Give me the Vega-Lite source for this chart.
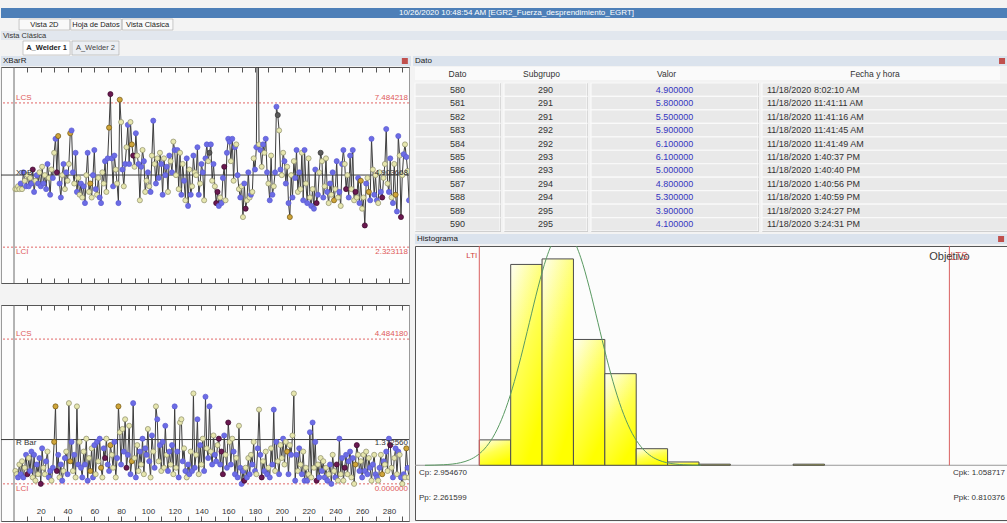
{
"$schema":"https://vega.github.io/schema/vega-lite/v6.json",
"background":"#f3f3f3",
"padding":{"left":0,"top":8,"right":0,"bottom":0},
"config":{"font":"Liberation Sans","view":{"stroke":null},"title":{"fontSize":9,"fontWeight":"normal","color":"#333333","offset":3,"font":"Liberation Sans"},"axis":{"grid":false}},
"datasets":{
"sg":[
{"s":1,"x":4.4,"r":0.4,"cx":"y","cr":"y"},{"s":2,"x":4.4,"r":0.3,"cx":"y","cr":"y"},{"s":3,"x":4.5,"r":0.2,"cx":"y","cr":"b"},{"s":4,"x":4.4,"r":0.6,"cx":"y","cr":"y"},{"s":5,"x":4.6,"r":0.3,"cx":"b","cr":"b"},{"s":6,"x":4.4,"r":0.7,"cx":"y","cr":"y"},{"s":7,"x":5.0,"r":0.2,"cx":"b","cr":"b"},{"s":8,"x":4.7,"r":0.5,"cx":"y","cr":"y"},{"s":9,"x":4.5,"r":0.9,"cx":"b","cr":"b"},{"s":10,"x":4.9,"r":0.3,"cx":"y","cr":"p"},
{"s":11,"x":4.5,"r":0.8,"cx":"b","cr":"y"},{"s":12,"x":4.8,"r":0.4,"cx":"y","cr":"b"},{"s":13,"x":4.6,"r":1.0,"cx":"b","cr":"b"},{"s":14,"x":5.1,"r":0.2,"cx":"p","cr":"y"},{"s":15,"x":4.3,"r":0.9,"cx":"b","cr":"b"},{"s":16,"x":4.7,"r":0.1,"cx":"y","cr":"y"},{"s":17,"x":4.9,"r":0.6,"cx":"b","cr":"b"},{"s":18,"x":4.6,"r":0.3,"cx":"b","cr":"y"},{"s":19,"x":5.0,"r":0.8,"cx":"y","cr":"b"},{"s":20,"x":4.5,"r":0.0,"cx":"b","cr":"p"},
{"s":21,"x":5.2,"r":1.1,"cx":"y","cr":"b"},{"s":22,"x":4.6,"r":0.5,"cx":"b","cr":"y"},{"s":23,"x":4.9,"r":0.3,"cx":"y","cr":"y"},{"s":24,"x":4.4,"r":0.7,"cx":"b","cr":"b"},{"s":25,"x":5.3,"r":1.0,"cx":"b","cr":"y"},{"s":26,"x":4.8,"r":0.2,"cx":"y","cr":"b"},{"s":27,"x":4.2,"r":0.4,"cx":"b","cr":"b"},{"s":28,"x":5.1,"r":0.1,"cx":"y","cr":"y"},{"s":29,"x":4.8,"r":0.5,"cx":"b","cr":"b"},{"s":30,"x":5.7,"r":1.3,"cx":"y","cr":"g"},
{"s":31,"x":6.2,"r":2.4,"cx":"b","cr":"g"},{"s":32,"x":5.0,"r":0.4,"cx":"p","cr":"p"},{"s":33,"x":6.3,"r":0.9,"cx":"g","cr":"b"},{"s":34,"x":4.6,"r":0.2,"cx":"b","cr":"y"},{"s":35,"x":4.1,"r":0.6,"cx":"b","cr":"b"},{"s":36,"x":4.9,"r":0.1,"cx":"y","cr":"b"},{"s":37,"x":5.3,"r":0.4,"cx":"b","cr":"y"},{"s":38,"x":4.4,"r":0.8,"cx":"y","cr":"b"},{"s":39,"x":5.0,"r":1.0,"cx":"b","cr":"y"},{"s":40,"x":4.7,"r":0.3,"cx":"y","cr":"b"},
{"s":41,"x":5.3,"r":2.5,"cx":"y","cr":"y"},{"s":42,"x":6.4,"r":0.7,"cx":"g","cr":"g"},{"s":43,"x":6.5,"r":1.3,"cx":"b","cr":"b"},{"s":44,"x":5.0,"r":0.4,"cx":"b","cr":"y"},{"s":45,"x":4.6,"r":0.9,"cx":"y","cr":"b"},{"s":46,"x":5.7,"r":0.2,"cx":"b","cr":"y"},{"s":47,"x":4.3,"r":2.4,"cx":"b","cr":"y"},{"s":48,"x":4.8,"r":0.6,"cx":"y","cr":"b"},{"s":49,"x":4.2,"r":1.3,"cx":"y","cr":"y"},{"s":50,"x":4.6,"r":0.5,"cx":"b","cr":"b"},
{"s":51,"x":4.1,"r":0.2,"cx":"y","cr":"b"},{"s":52,"x":4.5,"r":1.0,"cx":"b","cr":"y"},{"s":53,"x":3.9,"r":0.6,"cx":"b","cr":"b"},{"s":54,"x":4.9,"r":1.4,"cx":"y","cr":"y"},{"s":55,"x":5.7,"r":0.1,"cx":"b","cr":"b"},{"s":56,"x":4.3,"r":0.8,"cx":"y","cr":"y"},{"s":57,"x":4.6,"r":0.4,"cx":"g","cr":"g"},{"s":58,"x":4.1,"r":1.1,"cx":"y","cr":"y"},{"s":59,"x":4.9,"r":0.2,"cx":"b","cr":"b"},{"s":60,"x":5.8,"r":1.2,"cx":"b","cr":"b"},
{"s":61,"x":4.4,"r":0.3,"cx":"b","cr":"y"},{"s":62,"x":4.2,"r":1.3,"cx":"y","cr":"b"},{"s":63,"x":4.8,"r":0.7,"cx":"y","cr":"y"},{"s":64,"x":4.1,"r":1.4,"cx":"b","cr":"b"},{"s":65,"x":3.9,"r":0.5,"cx":"b","cr":"g"},{"s":66,"x":5.0,"r":0.2,"cx":"y","cr":"y"},{"s":67,"x":4.6,"r":1.1,"cx":"y","cr":"b"},{"s":68,"x":5.4,"r":0.8,"cx":"b","cr":"p"},{"s":69,"x":4.3,"r":1.4,"cx":"y","cr":"y"},{"s":70,"x":5.5,"r":0.6,"cx":"b","cr":"b"},
{"s":71,"x":6.6,"r":0.4,"cx":"g","cr":"b"},{"s":72,"x":7.8,"r":1.2,"cx":"p","cr":"g"},{"s":73,"x":5.5,"r":0.9,"cx":"b","cr":"y"},{"s":74,"x":4.5,"r":0.5,"cx":"b","cr":"y"},{"s":75,"x":5.6,"r":1.3,"cx":"b","cr":"b"},{"s":76,"x":5.1,"r":0.2,"cx":"y","cr":"y"},{"s":77,"x":4.6,"r":0.8,"cx":"y","cr":"b"},{"s":78,"x":3.9,"r":2.4,"cx":"b","cr":"g"},{"s":79,"x":7.6,"r":1.6,"cx":"g","cr":"y"},{"s":80,"x":6.8,"r":0.6,"cx":"y","cr":"b"},
{"s":81,"x":5.1,"r":1.7,"cx":"b","cr":"y"},{"s":82,"x":4.5,"r":1.0,"cx":"y","cr":"b"},{"s":83,"x":5.3,"r":2.0,"cx":"b","cr":"y"},{"s":84,"x":5.9,"r":0.5,"cx":"y","cr":"p"},{"s":85,"x":6.7,"r":0.9,"cx":"b","cr":"b"},{"s":86,"x":5.3,"r":1.8,"cx":"b","cr":"y"},{"s":87,"x":6.8,"r":0.3,"cx":"y","cr":"b"},{"s":88,"x":6.0,"r":0.7,"cx":"g","cr":"g"},{"s":89,"x":5.6,"r":2.5,"cx":"p","cr":"b"},{"s":90,"x":5.2,"r":0.8,"cx":"y","cr":"y"},
{"s":91,"x":6.4,"r":0.2,"cx":"b","cr":"b"},{"s":92,"x":5.6,"r":1.2,"cx":"y","cr":"y"},{"s":93,"x":5.3,"r":0.4,"cx":"b","cr":"y"},{"s":94,"x":4.0,"r":1.0,"cx":"y","cr":"b"},{"s":95,"x":5.2,"r":0.6,"cx":"b","cr":"y"},{"s":96,"x":5.8,"r":1.4,"cx":"y","cr":"b"},{"s":97,"x":5.4,"r":0.3,"cx":"b","cr":"y"},{"s":98,"x":4.3,"r":1.1,"cx":"y","cr":"b"},{"s":99,"x":4.7,"r":0.9,"cx":"y","cr":"b"},{"s":100,"x":5.0,"r":1.7,"cx":"b","cr":"y"},
{"s":101,"x":4.5,"r":0.7,"cx":"y","cr":"b"},{"s":102,"x":4.3,"r":0.2,"cx":"b","cr":"y"},{"s":103,"x":5.6,"r":1.5,"cx":"y","cr":"b"},{"s":104,"x":6.85,"r":1.0,"cx":"b","cr":"y"},{"s":105,"x":5.3,"r":0.5,"cx":"y","cr":"b"},{"s":106,"x":4.6,"r":2.4,"cx":"b","cr":"y"},{"s":107,"x":5.5,"r":2.0,"cx":"y","cr":"b"},{"s":108,"x":4.8,"r":0.7,"cx":"b","cr":"y"},{"s":109,"x":5.7,"r":1.2,"cx":"y","cr":"b"},{"s":110,"x":5.3,"r":0.4,"cx":"b","cr":"y"},
{"s":111,"x":4.2,"r":1.3,"cx":"b","cr":"b"},{"s":112,"x":5.5,"r":0.5,"cx":"y","cr":"y"},{"s":113,"x":4.9,"r":1.8,"cx":"b","cr":"b"},{"s":114,"x":5.2,"r":0.9,"cx":"b","cr":"y"},{"s":115,"x":4.3,"r":0.4,"cx":"y","cr":"b"},{"s":116,"x":5.6,"r":1.0,"cx":"b","cr":"b"},{"s":117,"x":5.4,"r":0.6,"cx":"y","cr":"y"},{"s":118,"x":5.0,"r":1.2,"cx":"b","cr":"b"},{"s":119,"x":6.1,"r":0.3,"cx":"y","cr":"y"},{"s":120,"x":5.8,"r":2.4,"cx":"b","cr":"b"},
{"s":121,"x":4.9,"r":0.5,"cx":"y","cr":"y"},{"s":122,"x":5.8,"r":1.0,"cx":"b","cr":"b"},{"s":123,"x":4.4,"r":0.2,"cx":"y","cr":"b"},{"s":124,"x":5.7,"r":1.9,"cx":"y","cr":"y"},{"s":125,"x":4.2,"r":2.0,"cx":"b","cr":"y"},{"s":126,"x":5.3,"r":0.7,"cx":"y","cr":"b"},{"s":127,"x":4.7,"r":1.1,"cx":"b","cr":"y"},{"s":128,"x":4.0,"r":0.4,"cx":"y","cr":"b"},{"s":129,"x":5.5,"r":0.2,"cx":"b","cr":"y"},{"s":130,"x":3.8,"r":0.6,"cx":"b","cr":"b"},
{"s":131,"x":5.1,"r":0.3,"cx":"y","cr":"b"},{"s":132,"x":4.2,"r":1.0,"cx":"b","cr":"y"},{"s":133,"x":4.5,"r":0.4,"cx":"y","cr":"b"},{"s":134,"x":5.6,"r":2.8,"cx":"b","cr":"y"},{"s":135,"x":5.0,"r":0.5,"cx":"y","cr":"b"},{"s":136,"x":4.9,"r":0.9,"cx":"y","cr":"y"},{"s":137,"x":5.9,"r":2.0,"cx":"b","cr":"b"},{"s":138,"x":4.2,"r":0.3,"cx":"b","cr":"y"},{"s":139,"x":4.6,"r":1.2,"cx":"y","cr":"b"},{"s":140,"x":5.3,"r":0.6,"cx":"b","cr":"y"},
{"s":141,"x":5.0,"r":1.4,"cx":"b","cr":"y"},{"s":142,"x":4.0,"r":0.4,"cx":"y","cr":"b"},{"s":143,"x":5.5,"r":2.7,"cx":"b","cr":"b"},{"s":144,"x":6.0,"r":1.1,"cx":"b","cr":"y"},{"s":145,"x":5.4,"r":0.8,"cx":"y","cr":"b"},{"s":146,"x":5.7,"r":2.4,"cx":"d","cr":"b"},{"s":147,"x":6.0,"r":1.0,"cx":"b","cr":"y"},{"s":148,"x":4.7,"r":0.6,"cx":"y","cr":"b"},{"s":149,"x":5.3,"r":1.5,"cx":"b","cr":"y"},{"s":150,"x":4.5,"r":0.9,"cx":"y","cr":"b"},
{"s":151,"x":3.9,"r":0.7,"cx":"p","cr":"b"},{"s":152,"x":4.3,"r":1.2,"cx":"p","cr":"y"},{"s":153,"x":3.8,"r":1.4,"cx":"b","cr":"p"},{"s":154,"x":4.1,"r":0.6,"cx":"y","cr":"b"},{"s":155,"x":3.9,"r":1.0,"cx":"b","cr":"p"},{"s":156,"x":4.8,"r":0.3,"cx":"b","cr":"p"},{"s":157,"x":5.2,"r":1.5,"cx":"p","cr":"b"},{"s":158,"x":4.0,"r":0.9,"cx":"y","cr":"y"},{"s":159,"x":5.7,"r":0.5,"cx":"b","cr":"b"},{"s":160,"x":6.2,"r":1.9,"cx":"b","cr":"p"},
{"s":161,"x":6.1,"r":1.3,"cx":"b","cr":"y"},{"s":162,"x":5.4,"r":0.6,"cx":"y","cr":"b"},{"s":163,"x":6.2,"r":1.4,"cx":"b","cr":"y"},{"s":164,"x":4.7,"r":1.0,"cx":"y","cr":"b"},{"s":165,"x":5.9,"r":0.3,"cx":"b","cr":"b"},{"s":166,"x":6.0,"r":0.8,"cx":"y","cr":"y"},{"s":167,"x":4.9,"r":0.2,"cx":"b","cr":"b"},{"s":168,"x":4.4,"r":1.8,"cx":"y","cr":"y"},{"s":169,"x":4.1,"r":0.5,"cx":"b","cr":"b"},{"s":170,"x":4.5,"r":0.0,"cx":"y","cr":"b"},
{"s":171,"x":3.4,"r":0.4,"cx":"y","cr":"b"},{"s":172,"x":4.6,"r":0.1,"cx":"b","cr":"p"},{"s":173,"x":3.7,"r":0.5,"cx":"p","cr":"y"},{"s":174,"x":4.0,"r":0.2,"cx":"y","cr":"b"},{"s":175,"x":5.0,"r":0.8,"cx":"b","cr":"y"},{"s":176,"x":4.1,"r":0.3,"cx":"y","cr":"b"},{"s":177,"x":4.2,"r":0.9,"cx":"b","cr":"y"},{"s":178,"x":4.3,"r":0.6,"cx":"y","cr":"b"},{"s":179,"x":5.5,"r":1.3,"cx":"y","cr":"y"},{"s":180,"x":5.1,"r":0.4,"cx":"b","cr":"b"},
{"s":181,"x":5.9,"r":0.3,"cx":"b","cr":"y"},{"s":182,"x":12.0,"r":1.1,"cx":"d","cr":"b"},{"s":183,"x":6.0,"r":2.3,"cx":"y","cr":"y"},{"s":184,"x":5.8,"r":0.9,"cx":"b","cr":"b"},{"s":185,"x":5.2,"r":0.2,"cx":"y","cr":"p"},{"s":186,"x":6.0,"r":0.7,"cx":"b","cr":"y"},{"s":187,"x":5.7,"r":0.4,"cx":"y","cr":"b"},{"s":188,"x":6.2,"r":1.0,"cx":"b","cr":"y"},{"s":189,"x":5.0,"r":0.3,"cx":"b","cr":"b"},{"s":190,"x":4.6,"r":0.5,"cx":"y","cr":"y"},
{"s":191,"x":4.0,"r":0.2,"cx":"b","cr":"b"},{"s":192,"x":5.6,"r":1.1,"cx":"y","cr":"y"},{"s":193,"x":4.2,"r":0.6,"cx":"b","cr":"b"},{"s":194,"x":4.5,"r":2.3,"cx":"y","cr":"b"},{"s":195,"x":5.0,"r":0.4,"cx":"b","cr":"y"},{"s":196,"x":7.35,"r":1.3,"cx":"b","cr":"b"},{"s":197,"x":7.05,"r":0.7,"cx":"d","cr":"y"},{"s":198,"x":6.5,"r":0.3,"cx":"y","cr":"b"},{"s":199,"x":5.1,"r":1.2,"cx":"b","cr":"y"},{"s":200,"x":4.9,"r":0.8,"cx":"y","cr":"y"},
{"s":201,"x":5.7,"r":1.4,"cx":"y","cr":"b"},{"s":202,"x":5.4,"r":0.6,"cx":"b","cr":"y"},{"s":203,"x":4.6,"r":1.3,"cx":"b","cr":"y"},{"s":204,"x":5.2,"r":1.0,"cx":"y","cr":"g"},{"s":205,"x":3.9,"r":0.3,"cx":"b","cr":"b"},{"s":206,"x":3.4,"r":1.2,"cx":"g","cr":"y"},{"s":207,"x":4.9,"r":0.9,"cx":"y","cr":"b"},{"s":208,"x":4.1,"r":1.5,"cx":"b","cr":"y"},{"s":209,"x":5.4,"r":2.8,"cx":"y","cr":"y"},{"s":210,"x":4.8,"r":0.1,"cx":"b","cr":"b"},
{"s":211,"x":5.8,"r":0.9,"cx":"b","cr":"b"},{"s":212,"x":4.3,"r":0.4,"cx":"y","cr":"y"},{"s":213,"x":5.0,"r":1.1,"cx":"b","cr":"b"},{"s":214,"x":4.4,"r":0.6,"cx":"y","cr":"y"},{"s":215,"x":5.7,"r":0.3,"cx":"y","cr":"b"},{"s":216,"x":4.0,"r":1.0,"cx":"b","cr":"y"},{"s":217,"x":5.8,"r":0.1,"cx":"b","cr":"b"},{"s":218,"x":4.6,"r":0.5,"cx":"y","cr":"y"},{"s":219,"x":3.9,"r":0.1,"cx":"b","cr":"b"},{"s":220,"x":5.5,"r":0.3,"cx":"y","cr":"y"},
{"s":221,"x":4.1,"r":1.6,"cx":"y","cr":"b"},{"s":222,"x":3.8,"r":0.2,"cx":"b","cr":"y"},{"s":223,"x":4.4,"r":1.9,"cx":"y","cr":"b"},{"s":224,"x":3.7,"r":0.5,"cx":"b","cr":"y"},{"s":225,"x":5.1,"r":1.3,"cx":"b","cr":"b"},{"s":226,"x":3.9,"r":0.1,"cx":"p","cr":"p"},{"s":227,"x":4.2,"r":0.6,"cx":"b","cr":"y"},{"s":228,"x":5.0,"r":0.2,"cx":"y","cr":"b"},{"s":229,"x":5.7,"r":0.8,"cx":"d","cr":"y"},{"s":230,"x":5.4,"r":0.4,"cx":"y","cr":"b"},
{"s":231,"x":4.1,"r":0.7,"cx":"b","cr":"y"},{"s":232,"x":4.5,"r":0.2,"cx":"y","cr":"b"},{"s":233,"x":5.5,"r":0.5,"cx":"y","cr":"y"},{"s":234,"x":4.3,"r":0.1,"cx":"b","cr":"b"},{"s":235,"x":3.9,"r":0.3,"cx":"y","cr":"y"},{"s":236,"x":4.6,"r":0.6,"cx":"b","cr":"b"},{"s":237,"x":4.2,"r":0.0,"cx":"y","cr":"b"},{"s":238,"x":5.0,"r":0.9,"cx":"b","cr":"y"},{"s":239,"x":4.0,"r":0.4,"cx":"g","cr":"y"},{"s":240,"x":4.4,"r":0.2,"cx":"y","cr":"b"},
{"s":241,"x":5.4,"r":0.6,"cx":"b","cr":"p"},{"s":242,"x":4.1,"r":0.1,"cx":"y","cr":"y"},{"s":243,"x":4.3,"r":1.4,"cx":"b","cr":"b"},{"s":244,"x":3.8,"r":0.3,"cx":"y","cr":"y"},{"s":245,"x":5.3,"r":0.8,"cx":"b","cr":"b"},{"s":246,"x":5.8,"r":0.1,"cx":"b","cr":"y"},{"s":247,"x":5.3,"r":0.5,"cx":"y","cr":"p"},{"s":248,"x":4.4,"r":0.9,"cx":"p","cr":"b"},{"s":249,"x":4.9,"r":0.3,"cx":"y","cr":"y"},{"s":250,"x":4.1,"r":0.7,"cx":"b","cr":"b"},
{"s":251,"x":5.6,"r":1.0,"cx":"b","cr":"b"},{"s":252,"x":4.4,"r":0.2,"cx":"y","cr":"y"},{"s":253,"x":5.8,"r":0.8,"cx":"b","cr":"b"},{"s":254,"x":4.0,"r":0.0,"cx":"y","cr":"y"},{"s":255,"x":4.3,"r":0.6,"cx":"p","cr":"g"},{"s":256,"x":4.1,"r":1.2,"cx":"y","cr":"p"},{"s":257,"x":4.8,"r":0.9,"cx":"b","cr":"y"},{"s":258,"x":3.9,"r":0.4,"cx":"b","cr":"b"},{"s":259,"x":4.7,"r":0.7,"cx":"g","cr":"y"},{"s":260,"x":3.7,"r":0.2,"cx":"y","cr":"b"},
{"s":261,"x":4.1,"r":0.9,"cx":"y","cr":"y"},{"s":262,"x":3.1,"r":0.4,"cx":"p","cr":"b"},{"s":263,"x":4.6,"r":1.0,"cx":"b","cr":"y"},{"s":264,"x":4.8,"r":0.3,"cx":"y","cr":"b"},{"s":265,"x":4.3,"r":0.8,"cx":"g","cr":"y"},{"s":266,"x":4.0,"r":0.5,"cx":"b","cr":"b"},{"s":267,"x":6.2,"r":0.1,"cx":"b","cr":"y"},{"s":268,"x":5.1,"r":0.6,"cx":"y","cr":"b"},{"s":269,"x":4.2,"r":0.9,"cx":"b","cr":"y"},{"s":270,"x":4.9,"r":0.3,"cx":"y","cr":"b"},
{"s":271,"x":4.0,"r":0.2,"cx":"b","cr":"b"},{"s":272,"x":3.9,"r":0.1,"cx":"y","cr":"y"},{"s":273,"x":5.0,"r":0.5,"cx":"y","cr":"b"},{"s":274,"x":4.3,"r":0.9,"cx":"b","cr":"y"},{"s":275,"x":4.1,"r":0.3,"cx":"p","cr":"g"},{"s":276,"x":4.8,"r":0.7,"cx":"y","cr":"b"},{"s":277,"x":5.3,"r":0.6,"cx":"y","cr":"y"},{"s":278,"x":6.55,"r":1.0,"cx":"b","cr":"b"},{"s":279,"x":4.6,"r":0.4,"cx":"y","cr":"y"},{"s":280,"x":4.3,"r":1.4,"cx":"b","cr":"b"},
{"s":281,"x":5.5,"r":1.2,"cx":"b","cr":"p"},{"s":282,"x":4.1,"r":0.5,"cx":"y","cr":"y"},{"s":283,"x":3.9,"r":0.2,"cx":"b","cr":"b"},{"s":284,"x":5.3,"r":0.8,"cx":"y","cr":"y"},{"s":285,"x":4.2,"r":1.1,"cx":"g","cr":"b"},{"s":286,"x":3.6,"r":0.3,"cx":"b","cr":"y"},{"s":287,"x":6.3,"r":1.0,"cx":"b","cr":"b"},{"s":288,"x":5.6,"r":0.9,"cx":"y","cr":"y"},{"s":289,"x":3.4,"r":0.2,"cx":"p","cr":"b"},{"s":290,"x":4.9,"r":0.0,"cx":"y","cr":"y"},
{"s":291,"x":5.65,"r":0.3,"cx":"b","cr":"b"},{"s":292,"x":6.0,"r":0.2,"cx":"y","cr":"y"},{"s":293,"x":5.55,"r":1.1,"cx":"b","cr":"g"},{"s":294,"x":5.05,"r":0.5,"cx":"y","cr":"b"},{"s":295,"x":4.0,"r":0.2,"cx":"b","cr":"y"}
],
"tbl":[
{"dato":580,"sub":290,"val":4.9,"fecha":"11/18/2020 8:02:10 AM"},
{"dato":581,"sub":291,"val":5.8,"fecha":"11/18/2020 11:41:11 AM"},
{"dato":582,"sub":291,"val":5.5,"fecha":"11/18/2020 11:41:16 AM"},
{"dato":583,"sub":292,"val":5.9,"fecha":"11/18/2020 11:41:45 AM"},
{"dato":584,"sub":292,"val":6.1,"fecha":"11/18/2020 11:41:49 AM"},
{"dato":585,"sub":293,"val":6.1,"fecha":"11/18/2020 1:40:37 PM"},
{"dato":586,"sub":293,"val":5.0,"fecha":"11/18/2020 1:40:40 PM"},
{"dato":587,"sub":294,"val":4.8,"fecha":"11/18/2020 1:40:56 PM"},
{"dato":588,"sub":294,"val":5.3,"fecha":"11/18/2020 1:40:59 PM"},
{"dato":589,"sub":295,"val":3.9,"fecha":"11/18/2020 3:24:27 PM"},
{"dato":590,"sub":295,"val":4.1,"fecha":"11/18/2020 3:24:31 PM"}
]
},
"columns":1,
"align":"none",
"spacing":0,
"concat":[
{"width":1007,"height":10,"view":{"fill":"#4d7fb8","stroke":null},"data":{"values":[{"t":"10/26/2020 10:48:54 AM [EGR2_Fuerza_desprendimiento_EGRT]"}]},"mark":{"type":"text","color":"#ffffff","fontSize":8,"dx":12},"encoding":{"text":{"field":"t","type":"nominal"}}},
{"width":190,"height":11,"data":{"values":[{"t":"Vista 2D"},{"t":"Hoja de Datos"},{"t":"Vista Clásica"}]},"encoding":{"x":{"field":"t","type":"nominal","sort":null,"axis":null,"scale":{"paddingInner":0.02,"paddingOuter":0.35}}},"layer":[{"mark":{"type":"rect","fill":"#f9f9f9","stroke":"#a8a8a8","strokeWidth":0.6}},{"mark":{"type":"text","fontSize":7.5,"color":"#222222"},"encoding":{"text":{"field":"t","type":"nominal"}}}]},
{"width":1007,"height":9,"view":{"fill":"#e2e7ee","stroke":null},"data":{"values":[{"t":"Vista Clásica"}]},"mark":{"type":"text","align":"left","fontSize":7.5,"color":"#333333","dx":2},"encoding":{"text":{"field":"t","type":"nominal"},"x":{"datum":0,"type":"quantitative","scale":{"domain":[0,1]},"axis":null}}},
{"width":140,"height":14,"data":{"values":[{"t":"A_Welder 1","sel":"y"},{"t":"A_Welder 2","sel":"n"}]},"encoding":{"x":{"field":"t","type":"nominal","sort":null,"axis":null,"scale":{"paddingInner":0.04,"paddingOuter":0.45}}},"layer":[{"transform":[{"filter":"datum.sel == 'y'"}],"mark":{"type":"rect","fill":"#ffffff","stroke":"#a8a8a8","strokeWidth":0.6}},{"transform":[{"filter":"datum.sel == 'n'"}],"mark":{"type":"rect","fill":"#eceff3","stroke":"#a8a8a8","strokeWidth":0.6}},{"transform":[{"filter":"datum.sel == 'y'"}],"mark":{"type":"text","fontSize":7.5,"fontWeight":"bold","color":"#222222"},"encoding":{"text":{"field":"t","type":"nominal"}}},{"transform":[{"filter":"datum.sel == 'n'"}],"mark":{"type":"text","fontSize":7.5,"color":"#444444"},"encoding":{"text":{"field":"t","type":"nominal"}}}]},
{"spacing":2,"hconcat":[
{"width":410,"height":10,"view":{"fill":"#dbe3ed","stroke":null},"data":{"values":[{"t":"XBarR"}]},"layer":[{"mark":{"type":"text","align":"left","fontSize":8,"color":"#222222","dx":2},"encoding":{"text":{"field":"t","type":"nominal"},"x":{"datum":0,"type":"quantitative","scale":{"domain":[0,1]},"axis":null}}},{"mark":{"type":"square","size":36,"color":"#c0504d","opacity":1},"encoding":{"x":{"datum":0.985,"type":"quantitative","axis":null}}}]},
{"width":595,"height":10,"view":{"fill":"#dbe3ed","stroke":null},"data":{"values":[{"t":"Dato"}]},"layer":[{"mark":{"type":"text","align":"left","fontSize":8,"color":"#222222","dx":2},"encoding":{"text":{"field":"t","type":"nominal"},"x":{"datum":0,"type":"quantitative","scale":{"domain":[0,1]},"axis":null}}},{"mark":{"type":"square","size":36,"color":"#c0504d","opacity":1},"encoding":{"x":{"datum":0.99,"type":"quantitative","axis":null}}}]}
]},
{"spacing":3,"hconcat":[
{"spacing":20,"vconcat":[
{"width":408,"height":216,"view":{"fill":"#fdfdfd","stroke":"#9a9a9a"},"resolve":{"axis":{"x":"independent"}},
"layer":[
{"data":{"values":[{"v":7.484218},{"v":2.323118}]},"mark":{"type":"rule","color":"#e06666","strokeDash":[2,2],"strokeWidth":1},"encoding":{"y":{"field":"v","type":"quantitative","scale":{"domain":[1.04,8.77],"nice":false,"zero":false},"axis":null}}},
{"data":{"values":[{"v":4.903668}]},"mark":{"type":"rule","color":"#3a3a3a","strokeWidth":1},"encoding":{"y":{"field":"v","type":"quantitative"}}},
{"data":{"values":[{"v":0}]},"mark":{"type":"rule","color":"#6a6a6a","strokeWidth":1},"encoding":{"x":{"field":"v","type":"quantitative","axis":null}}},
{"data":{"name":"sg"},"mark":{"type":"line","color":"#3d3d3d","strokeWidth":1,"clip":true},"encoding":{"x":{"field":"s","type":"quantitative","scale":{"domain":[-9.71,295],"nice":false,"zero":false},"axis":{"orient":"bottom","values":[10,20,30,40,50,60,70,80,90,100,110,120,130,140,150,160,170,180,190,200,210,220,230,240,250,260,270,280,290],"labels":false,"tickSize":-5,"tickColor":"#555555","domainColor":"#555555","title":null,"minExtent":0,"maxExtent":0}},"y":{"field":"x","type":"quantitative"}}},
{"data":{"name":"sg"},"mark":{"type":"point","filled":true,"size":26,"strokeWidth":0.7,"opacity":1,"clip":true},"encoding":{"x":{"field":"s","type":"quantitative","axis":{"orient":"top","values":[10,20,30,40,50,60,70,80,90,100,110,120,130,140,150,160,170,180,190,200,210,220,230,240,250,260,270,280,290],"labels":false,"tickSize":-5,"tickColor":"#555555","domainColor":"#555555","title":null,"minExtent":0,"maxExtent":0}},"y":{"field":"x","type":"quantitative"},"fill":{"field":"cx","type":"nominal","scale":{"domain":["b","y","g","p","d"],"range":["#6c6ce6","#e6e6ae","#cfa53a","#6a1850","#5a5a5a"]},"legend":null},"stroke":{"field":"cx","type":"nominal","scale":{"domain":["b","y","g","p","d"],"range":["#5c5cd0","#8d8d6a","#6e5412","#3c0a2c","#333333"]},"legend":null}}},
{"data":{"values":[{"k":"LCS","v":7.484218,"t":"7.484218"}]},"encoding":{"y":{"field":"v","type":"quantitative"}},"layer":[
{"mark":{"type":"text","align":"left","baseline":"bottom","dx":2,"dy":-1,"fontSize":8,"color":"#e05a5a"},"encoding":{"x":{"datum":0,"type":"quantitative","axis":null},"text":{"field":"k","type":"nominal"}}},
{"mark":{"type":"text","align":"right","baseline":"bottom","dx":-1,"dy":-1,"fontSize":8,"color":"#e05a5a"},"encoding":{"x":{"datum":295,"type":"quantitative","axis":null},"text":{"field":"t","type":"nominal"}}}]},
{"data":{"values":[{"k":"LCI","v":2.323118,"t":"2.323118"}]},"encoding":{"y":{"field":"v","type":"quantitative"}},"layer":[
{"mark":{"type":"text","align":"left","baseline":"top","dx":2,"dy":1,"fontSize":8,"color":"#e05a5a"},"encoding":{"x":{"datum":0,"type":"quantitative","axis":null},"text":{"field":"k","type":"nominal"}}},
{"mark":{"type":"text","align":"right","baseline":"top","dx":-1,"dy":1,"fontSize":8,"color":"#e05a5a"},"encoding":{"x":{"datum":295,"type":"quantitative","axis":null},"text":{"field":"t","type":"nominal"}}}]},
{"data":{"values":[{"k":"XDB","v":4.903668,"t":"4.903668"}]},"encoding":{"y":{"field":"v","type":"quantitative"}},"layer":[
{"mark":{"type":"text","align":"left","baseline":"middle","dx":2,"dy":-2,"fontSize":8,"color":"#333333"},"encoding":{"x":{"datum":0,"type":"quantitative","axis":null},"text":{"field":"k","type":"nominal"}}},
{"mark":{"type":"text","align":"right","baseline":"middle","dx":-1,"dy":-2,"fontSize":8,"color":"#333333"},"encoding":{"x":{"datum":295,"type":"quantitative","axis":null},"text":{"field":"t","type":"nominal"}}}]}
]},
{"width":408,"height":216,"view":{"fill":"#fdfdfd","stroke":"#9a9a9a"},"resolve":{"axis":{"x":"independent"}},
"layer":[
{"data":{"values":[{"v":4.48418},{"v":0}]},"mark":{"type":"rule","color":"#e06666","strokeDash":[2,2],"strokeWidth":1},"encoding":{"y":{"field":"v","type":"quantitative","scale":{"domain":[-1.15,5.54],"nice":false,"zero":false},"axis":null}}},
{"data":{"values":[{"v":1.37256}]},"mark":{"type":"rule","color":"#3a3a3a","strokeWidth":1},"encoding":{"y":{"field":"v","type":"quantitative"}}},
{"data":{"values":[{"v":0}]},"mark":{"type":"rule","color":"#6a6a6a","strokeWidth":1},"encoding":{"x":{"field":"v","type":"quantitative","axis":null}}},
{"data":{"name":"sg"},"mark":{"type":"line","color":"#3d3d3d","strokeWidth":1,"clip":true},"encoding":{"x":{"field":"s","type":"quantitative","scale":{"domain":[-9.71,295],"nice":false,"zero":false},"axis":{"orient":"bottom","values":[10,20,30,40,50,60,70,80,90,100,110,120,130,140,150,160,170,180,190,200,210,220,230,240,250,260,270,280,290],"labelExpr":"datum.value % 20 === 0 ? datum.label : ''","labelFontSize":8,"labelColor":"#333333","labelPadding":-9,"labelOverlap":false,"labelFlush":false,"tickSize":-5,"tickColor":"#555555","domainColor":"#555555","title":null,"minExtent":0,"maxExtent":0}},"y":{"field":"r","type":"quantitative"}}},
{"data":{"name":"sg"},"mark":{"type":"point","filled":true,"size":26,"strokeWidth":0.7,"opacity":1,"clip":true},"encoding":{"x":{"field":"s","type":"quantitative","axis":{"orient":"top","values":[10,20,30,40,50,60,70,80,90,100,110,120,130,140,150,160,170,180,190,200,210,220,230,240,250,260,270,280,290],"labels":false,"tickSize":-5,"tickColor":"#555555","domainColor":"#555555","title":null,"minExtent":0,"maxExtent":0}},"y":{"field":"r","type":"quantitative"},"fill":{"field":"cr","type":"nominal","scale":{"domain":["b","y","g","p","d"],"range":["#6c6ce6","#e6e6ae","#cfa53a","#6a1850","#5a5a5a"]},"legend":null},"stroke":{"field":"cr","type":"nominal","scale":{"domain":["b","y","g","p","d"],"range":["#5c5cd0","#8d8d6a","#6e5412","#3c0a2c","#333333"]},"legend":null}}},
{"data":{"values":[{"k":"LCS","v":4.48418,"t":"4.484180"}]},"encoding":{"y":{"field":"v","type":"quantitative"}},"layer":[
{"mark":{"type":"text","align":"left","baseline":"bottom","dx":2,"dy":-1,"fontSize":8,"color":"#e05a5a"},"encoding":{"x":{"datum":0,"type":"quantitative","axis":null},"text":{"field":"k","type":"nominal"}}},
{"mark":{"type":"text","align":"right","baseline":"bottom","dx":-1,"dy":-1,"fontSize":8,"color":"#e05a5a"},"encoding":{"x":{"datum":295,"type":"quantitative","axis":null},"text":{"field":"t","type":"nominal"}}}]},
{"data":{"values":[{"k":"LCI","v":0,"t":"0.000000"}]},"encoding":{"y":{"field":"v","type":"quantitative"}},"layer":[
{"mark":{"type":"text","align":"left","baseline":"top","dx":2,"dy":1,"fontSize":8,"color":"#e05a5a"},"encoding":{"x":{"datum":0,"type":"quantitative","axis":null},"text":{"field":"k","type":"nominal"}}},
{"mark":{"type":"text","align":"right","baseline":"top","dx":-1,"dy":1,"fontSize":8,"color":"#e05a5a"},"encoding":{"x":{"datum":295,"type":"quantitative","axis":null},"text":{"field":"t","type":"nominal"}}}]},
{"data":{"values":[{"k":"R Bar","v":1.37256,"t":"1.372560"}]},"encoding":{"y":{"field":"v","type":"quantitative"}},"layer":[
{"mark":{"type":"text","align":"left","baseline":"middle","dx":2,"dy":3,"fontSize":8,"color":"#333333"},"encoding":{"x":{"datum":0,"type":"quantitative","axis":null},"text":{"field":"k","type":"nominal"}}},
{"mark":{"type":"text","align":"right","baseline":"middle","dx":-1,"dy":3,"fontSize":8,"color":"#333333"},"encoding":{"x":{"datum":295,"type":"quantitative","axis":null},"text":{"field":"t","type":"nominal"}}}]}
]}
]},
{"spacing":1,"vconcat":[
{"spacing":0,"hconcat":[
{"width":85,"height":13,"view":{"fill":"#fafafa","stroke":null},"data":{"values":[{"t":"Dato"}]},"mark":{"type":"text","fontSize":8.5,"color":"#333333"},"encoding":{"text":{"field":"t","type":"nominal"}}},
{"width":83,"height":13,"view":{"fill":"#fafafa","stroke":null},"data":{"values":[{"t":"Subgrupo"}]},"mark":{"type":"text","fontSize":8.5,"color":"#333333"},"encoding":{"text":{"field":"t","type":"nominal"}}},
{"width":167,"height":13,"view":{"fill":"#fafafa","stroke":null},"data":{"values":[{"t":"Valor"}]},"mark":{"type":"text","fontSize":8.5,"color":"#333333"},"encoding":{"text":{"field":"t","type":"nominal"}}},
{"width":250,"height":13,"view":{"fill":"#fafafa","stroke":null},"data":{"values":[{"t":"Fecha y hora"}]},"mark":{"type":"text","fontSize":8.5,"color":"#333333"},"encoding":{"text":{"field":"t","type":"nominal"}}}
]},
{"spacing":0,"hconcat":[
{"width":85,"height":148,"data":{"name":"tbl"},"view":{"stroke":"#a5a5a5","fill":"#e9e9e9"},"encoding":{"y":{"field":"dato","type":"ordinal","axis":null,"scale":{"paddingInner":0,"paddingOuter":0}}},"layer":[{"mark":{"type":"rect","fill":"#e9e9e9","stroke":"#fafafa","strokeWidth":1.2}},{"mark":{"type":"text","fontSize":9,"color":"#333333"},"encoding":{"text":{"field":"dato","type":"nominal"}}}]},
{"width":83,"height":148,"data":{"name":"tbl"},"view":{"stroke":"#a5a5a5","fill":"#e9e9e9"},"encoding":{"y":{"field":"dato","type":"ordinal","axis":null,"scale":{"paddingInner":0,"paddingOuter":0}}},"layer":[{"mark":{"type":"rect","fill":"#e9e9e9","stroke":"#fafafa","strokeWidth":1.2}},{"mark":{"type":"text","fontSize":9,"color":"#333333"},"encoding":{"text":{"field":"sub","type":"nominal"}}}]},
{"width":167,"height":148,"data":{"name":"tbl"},"view":{"stroke":"#a5a5a5","fill":"#e9e9e9"},"encoding":{"y":{"field":"dato","type":"ordinal","axis":null,"scale":{"paddingInner":0,"paddingOuter":0}}},"layer":[{"mark":{"type":"rect","fill":"#e9e9e9","stroke":"#fafafa","strokeWidth":1.2}},{"mark":{"type":"text","fontSize":9,"color":"#3535c0"},"encoding":{"text":{"field":"val","type":"quantitative","format":".6f"}}}]},
{"width":250,"height":148,"data":{"name":"tbl"},"view":{"stroke":"#a5a5a5","fill":"#e9e9e9"},"encoding":{"y":{"field":"dato","type":"ordinal","axis":null,"scale":{"paddingInner":0,"paddingOuter":0}}},"layer":[{"mark":{"type":"rect","fill":"#e9e9e9","stroke":"#fafafa","strokeWidth":1.2}},{"mark":{"type":"text","fontSize":9,"color":"#333333","align":"left","dx":5},"encoding":{"text":{"field":"fecha","type":"nominal"},"x":{"datum":0,"type":"quantitative","scale":{"domain":[0,1]},"axis":null}}}]}
]},
{"width":592,"height":10,"view":{"fill":"#dbe3ed","stroke":null},"data":{"values":[{"t":"Histograma"}]},"layer":[{"mark":{"type":"text","align":"left","fontSize":8,"color":"#222222","dx":2},"encoding":{"text":{"field":"t","type":"nominal"},"x":{"datum":0,"type":"quantitative","scale":{"domain":[0,1]},"axis":null}}},{"mark":{"type":"square","size":36,"color":"#c0504d","opacity":1},"encoding":{"x":{"datum":0.99,"type":"quantitative","axis":null}}}]},
{"width":592,"height":274,"view":{"fill":"#fcfcfc","stroke":"#555555"},
"layer":[
{"data":{"values":[{"z":0}]},"mark":{"type":"rule","color":"#999999"},"encoding":{"y":{"field":"z","type":"quantitative","scale":{"domain":[-49.6,198.7],"nice":false,"zero":false},"axis":null}}},
{"data":{"values":[{"b0":1.039,"b1":2.477,"n":23},{"b0":2.477,"b1":3.915,"n":182},{"b0":3.915,"b1":5.353,"n":187},{"b0":5.353,"b1":6.791,"n":114},{"b0":6.791,"b1":8.229,"n":83},{"b0":8.229,"b1":9.667,"n":15},{"b0":9.667,"b1":11.105,"n":3},{"b0":11.105,"b1":12.543,"n":1},{"b0":15.419,"b1":16.857,"n":1}]},"mark":{"type":"rect","stroke":"#4d4d4d","strokeWidth":1,"fill":{"gradient":"linear","x1":0,"y1":0,"x2":0.5,"y2":1,"stops":[{"offset":0,"color":"#fefef2"},{"offset":0.55,"color":"#ffff50"},{"offset":1,"color":"#ffff00"}]}},"encoding":{"x":{"field":"b0","type":"quantitative","scale":{"domain":[-1.908,25.22],"nice":false,"zero":false},"axis":null},"x2":{"field":"b1"},"y":{"field":"n","type":"quantitative","axis":null},"y2":{"datum":0}}},
{"data":{"values":[{"v":-1.45,"d":0},{"v":-0.598,"d":0.47},{"v":-0.205,"d":1.08},{"v":0.188,"d":2.37},{"v":0.581,"d":4.85},{"v":0.974,"d":9.35},{"v":1.367,"d":16.95},{"v":1.76,"d":28.8},{"v":2.153,"d":46.1},{"v":2.546,"d":69.2},{"v":2.939,"d":97.5},{"v":3.332,"d":129.2},{"v":3.725,"d":160.8},{"v":4.118,"d":188},{"v":4.511,"d":206.4},{"v":4.904,"d":213},{"v":5.297,"d":206.4},{"v":5.69,"d":188},{"v":6.083,"d":160.8},{"v":6.476,"d":129.2},{"v":6.869,"d":97.5},{"v":7.262,"d":69.2},{"v":7.655,"d":46.1},{"v":8.048,"d":28.8},{"v":8.441,"d":16.95},{"v":8.834,"d":9.35},{"v":9.227,"d":4.85},{"v":9.62,"d":2.37},{"v":10.013,"d":1.08},{"v":10.406,"d":0.47},{"v":11.192,"d":0.07}]},"mark":{"type":"line","color":"#5a9a62","strokeWidth":1,"clip":true,"interpolate":"monotone"},"encoding":{"x":{"field":"v","type":"quantitative"},"y":{"field":"d","type":"quantitative"}}},
{"data":{"values":[{"v":1.039},{"v":22.58}]},"mark":{"type":"rule","color":"#d96060","strokeWidth":1},"encoding":{"x":{"field":"v","type":"quantitative"},"y":{"datum":198.7,"type":"quantitative"},"y2":{"datum":0}}},
{"data":{"values":[{"t":"LTI"}]},"mark":{"type":"text","color":"#d04040","fontSize":8,"align":"right","dx":-2},"encoding":{"text":{"field":"t","type":"nominal"},"x":{"datum":1.039,"type":"quantitative"},"y":{"datum":190,"type":"quantitative"}}},
{"data":{"values":[{"t":"Objetivo"}]},"mark":{"type":"text","color":"#3a3a3a","fontSize":11},"encoding":{"text":{"field":"t","type":"nominal"},"x":{"datum":22.58,"type":"quantitative"},"y":{"datum":189,"type":"quantitative"}}},
{"data":{"values":[{"t":"LTS"}]},"mark":{"type":"text","color":"#d04040","fontSize":10,"align":"left","dx":1,"opacity":0.8},"encoding":{"text":{"field":"t","type":"nominal"},"x":{"datum":22.58,"type":"quantitative"},"y":{"datum":189,"type":"quantitative"}}},
{"data":{"values":[{"t":"Cp: 2.954670"}]},"mark":{"type":"text","color":"#333333","fontSize":8,"align":"left","dx":4},"encoding":{"text":{"field":"t","type":"nominal"},"x":{"datum":-1.908,"type":"quantitative"},"y":{"datum":-7,"type":"quantitative"}}},
{"data":{"values":[{"t":"Pp: 2.261599"}]},"mark":{"type":"text","color":"#333333","fontSize":8,"align":"left","dx":4},"encoding":{"text":{"field":"t","type":"nominal"},"x":{"datum":-1.908,"type":"quantitative"},"y":{"datum":-29.6,"type":"quantitative"}}},
{"data":{"values":[{"t":"Cpk: 1.058717"}]},"mark":{"type":"text","color":"#333333","fontSize":8,"align":"right","dx":-2},"encoding":{"text":{"field":"t","type":"nominal"},"x":{"datum":25.22,"type":"quantitative"},"y":{"datum":-7,"type":"quantitative"}}},
{"data":{"values":[{"t":"Ppk: 0.810376"}]},"mark":{"type":"text","color":"#333333","fontSize":8,"align":"right","dx":-2},"encoding":{"text":{"field":"t","type":"nominal"},"x":{"datum":25.22,"type":"quantitative"},"y":{"datum":-29.6,"type":"quantitative"}}}
]}
]}
]}
]
}
